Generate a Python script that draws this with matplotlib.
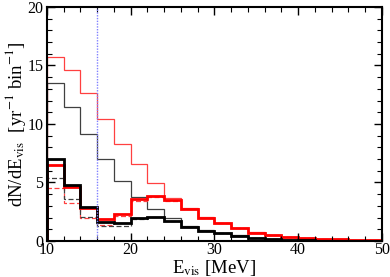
import matplotlib
matplotlib.use("Agg")
import matplotlib.pyplot as plt
from matplotlib.ticker import MultipleLocator

plt.rcParams['font.family'] = ['Liberation Serif', 'DejaVu Serif']
plt.rcParams['mathtext.fontset'] = 'stix'

# bin edges [MeV]
edges = [10, 12, 14, 16, 18, 20, 22, 24, 26, 28, 30, 32, 34, 36, 38, 40, 42, 44, 46, 48, 50]

# thin lines (upper curves)
red_thin = [15.75, 14.64, 12.65, 10.43, 8.33, 6.55, 4.95, 3.70, 2.80, 2.05,
            1.56, 1.12, 0.76, 0.53, 0.38, 0.27, 0.20, 0.15, 0.10, 0.05]
black_thin = [13.48, 11.48, 9.15, 7.00, 5.13, 3.72, 2.72, 1.94, 1.30, 0.92,
              0.68, 0.48, 0.26, 0.20, 0.12, 0.07, 0.04, 0.03, 0.03, 0.02]

# thick lines
red_thick = [6.52, 4.64, 2.85, 1.85, 2.28, 3.59, 3.87, 3.50, 2.71, 1.97,
             1.51, 1.08, 0.71, 0.51, 0.37, 0.26, 0.20, 0.15, 0.10, 0.05]
black_thick = [6.98, 4.79, 2.88, 1.65, 1.50, 1.97, 2.08, 1.74, 1.23, 0.88,
               0.66, 0.46, 0.25, 0.20, 0.12, 0.07, 0.04, 0.03, 0.03, 0.02]

# dashed lines
red_dash = [4.53, 3.22, 1.97, 1.33, 2.12, 3.42, 3.80, 3.45, 2.71, 1.97,
            1.51, 1.08, 0.71, 0.51, 0.37, 0.26, 0.20, 0.15, 0.10, 0.05]
black_dash = [5.41, 3.56, 2.03, 1.25, 1.32, 1.90, 2.05, 1.72, 1.23, 0.88,
              0.66, 0.46, 0.25, 0.20, 0.12, 0.07, 0.04, 0.03, 0.03, 0.02]

threshold = 16

fig = plt.figure(figsize=(3.9, 2.77), dpi=100)
ax = fig.add_axes([0.1205, 0.130, 0.8585, 0.845])

ax.stairs(red_thin, edges, color='#ff4040', linewidth=0.9)
ax.stairs(black_thin, edges, color='#404040', linewidth=0.9)
ax.stairs(red_dash, edges, color='#ff4040', linewidth=0.9, linestyle=(0, (4, 2)))
ax.stairs(black_dash, edges, color='#404040', linewidth=0.9, linestyle=(0, (4, 2)))
ax.stairs(red_thick, edges, color='#ff0000', linewidth=2.0)
ax.stairs(black_thick, edges, color='#000000', linewidth=2.0)

ax.axvline(threshold, color='#8080ff', linestyle=(0, (1, 1)), linewidth=1.0)

ax.set_xlim(10, 50)
ax.set_ylim(0, 20)
ax.xaxis.set_major_locator(MultipleLocator(10))
ax.xaxis.set_minor_locator(MultipleLocator(2))
ax.yaxis.set_major_locator(MultipleLocator(5))
ax.yaxis.set_minor_locator(MultipleLocator(1))
ax.tick_params(which='both', direction='in', top=True, right=True, labelsize=11.5, pad=1)
ax.tick_params(axis='y', which='both', pad=2.5)
ax.tick_params(which='major', length=6, width=1.0)
ax.tick_params(which='minor', length=3.5, width=0.8)
for s in ax.spines.values():
    s.set_linewidth(1.5)

ax.set_xlabel(r'E$_{\rm vis}$ [MeV]', fontsize=13.5, labelpad=0)
ax.set_ylabel(r'dN/dE$_{\rm vis}$  [yr$^{-1}$ bin$^{-1}$]', fontsize=13.5, labelpad=0)

fig.savefig('out.png', dpi=100)
